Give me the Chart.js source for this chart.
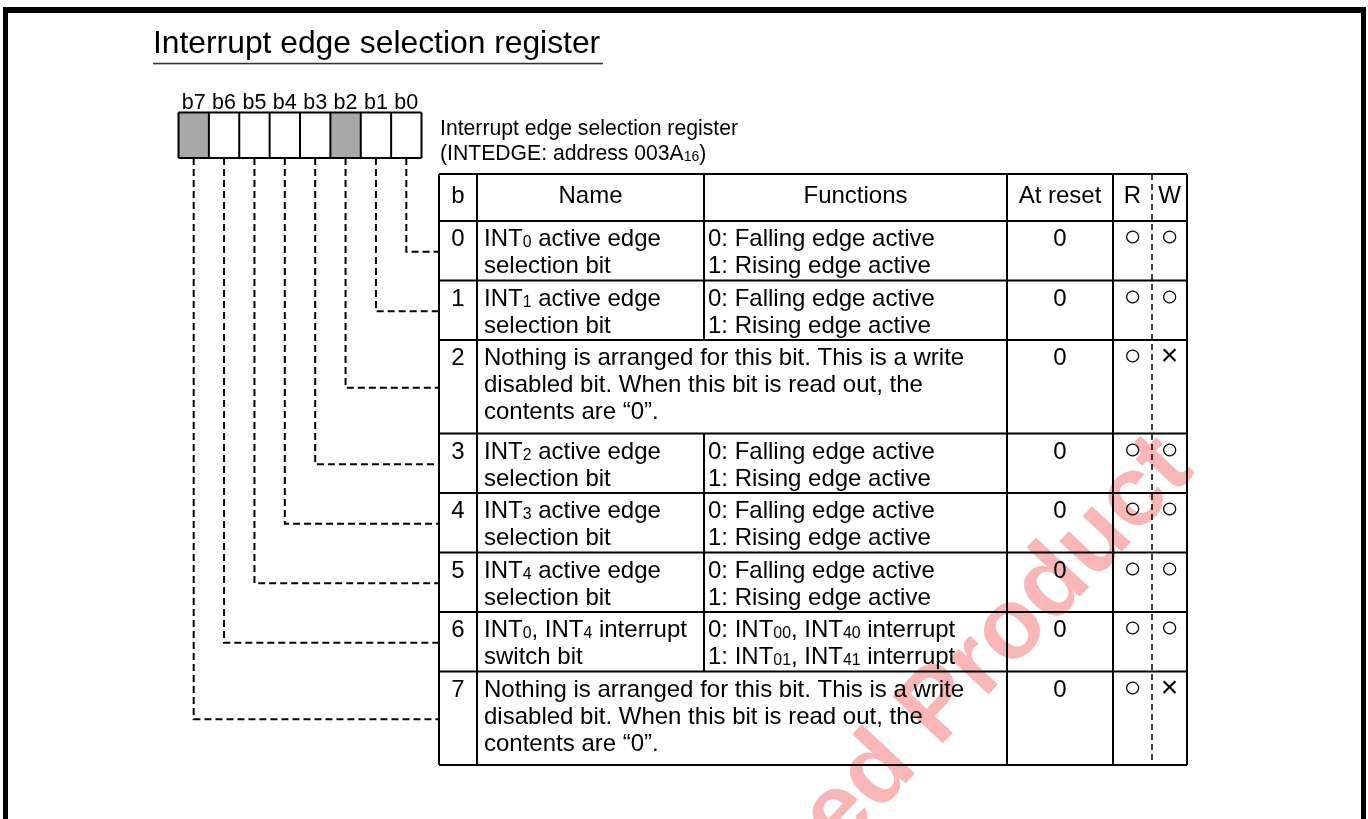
<!DOCTYPE html>
<html><head><meta charset="utf-8">
<script src="https://cdn.jsdelivr.net/npm/chart.js"></script>
<style>html,body{margin:0;padding:0;background:#fff;overflow:hidden}#wrap{width:1368px;height:819px}</style>
</head><body><div id="wrap"><canvas id="c" width="1368" height="819"></canvas></div>
<script>
// ---------- DATA ----------
const titleText = 'Interrupt edge selection register';
const registerName = 'Interrupt edge selection register';
const registerAddress = '(INTEDGE: address 003A_{16})';
const bitLabels = ['b7','b6','b5','b4','b3','b2','b1','b0'];
const reservedBits = [7, 2];
const headers = ['b','Name','Functions','At reset','R','W'];
const bitNumbers = ['0','1','2','3','4','5','6','7'];
const names = [
  ['INT_{0} active edge','selection bit'],
  ['INT_{1} active edge','selection bit'],
  null,
  ['INT_{2} active edge','selection bit'],
  ['INT_{3} active edge','selection bit'],
  ['INT_{4} active edge','selection bit'],
  ['INT_{0}, INT_{4} interrupt','switch bit'],
  null
];
const functionsText = [
  ['0: Falling edge active','1: Rising edge active'],
  ['0: Falling edge active','1: Rising edge active'],
  null,
  ['0: Falling edge active','1: Rising edge active'],
  ['0: Falling edge active','1: Rising edge active'],
  ['0: Falling edge active','1: Rising edge active'],
  ['0: INT_{00}, INT_{40} interrupt','1: INT_{01}, INT_{41} interrupt'],
  null
];
const spanText = [
  null, null,
  ['Nothing is arranged for this bit. This is a write','disabled bit. When this bit is read out, the','contents are \u201c0\u201d.'],
  null, null, null, null,
  ['Nothing is arranged for this bit. This is a write','disabled bit. When this bit is read out, the','contents are \u201c0\u201d.']
];
const resetValues = ['0','0','0','0','0','0','0','0'];
const readAccess  = ['\u25cb','\u25cb','\u25cb','\u25cb','\u25cb','\u25cb','\u25cb','\u25cb'];
const writeAccess = ['\u25cb','\u25cb','\u00d7','\u25cb','\u25cb','\u25cb','\u25cb','\u00d7'];
const watermarkText = 'Discontinued Product';

// ---------- LAYOUT ----------
const FONT = '"Liberation Sans", Arial, Helvetica, sans-serif';
const L = {
  W: 1368, H: 819,
  titleX: 153, titleY: 53, titleSize: 31.8, ulY: 63.5, ulX2: 603,
  boxL: 178.5, boxR: 421.5, boxT: 112.5, boxB: 158, bitLabelY: 109, bitLabelSize: 21.5,
  regX: 440, regY1: 135, regY2: 160, regSize: 21.2,
  cols: [439, 477, 704, 1007, 1113, 1152, 1187],
  tTop: 174, hBot: 221, headY: 203, headSize: 24,
  bodySize: 24, symSize: 30, lineH: 27, firstBase: 25,
  nameX: 484, funcX: 708
};
function rowHeight(lines){ return 34*lines - 8.5; }
const rowLines = bitNumbers.map((b,i)=> Math.max((names[i]||[]).length,(functionsText[i]||[]).length,(spanText[i]||[]).length));
const rowTops = []; { let y=L.hBot; rowLines.forEach(n=>{ rowTops.push(y); y+=rowHeight(n); }); rowTops.push(y); }
const tBot = rowTops[rowTops.length-1];
const cellW = (L.boxR-L.boxL)/bitLabels.length;
function bitCenterX(bit){ return L.boxL + (7-bit+0.5)*cellW; }
function connY(i){ return (rowTops[i]+rowTops[i+1])/2 + 1; }

// ---------- SEGMENTS ----------
const GAP = {x:null,y:null};
function seg(arr,x1,y1,x2,y2){ arr.push({x:x1,y:y1},{x:x2,y:y2},GAP); }
const tableSegs = [], rwSegs = [], connSegs = [], boxSegs = [];
const C = L.cols;
seg(tableSegs,C[0],L.tTop,C[6],L.tTop);
seg(tableSegs,C[0],L.hBot,C[6],L.hBot);
rowTops.slice(1).forEach(y=>seg(tableSegs,C[0],y,C[6],y));
[0,1,3,4,6].forEach(k=>seg(tableSegs,C[k],L.tTop,C[k],tBot));
seg(tableSegs,C[2],L.tTop,C[2],L.hBot);
bitNumbers.forEach((b,i)=>{ if(!spanText[i]) seg(tableSegs,C[2],rowTops[i],C[2],rowTops[i+1]); });
seg(rwSegs,C[5],L.tTop,C[5],tBot);
bitNumbers.forEach((b,i)=>{
  const x=bitCenterX(i), y=connY(i);
  connSegs.push({x:x,y:L.boxB},{x:x,y:y},{x:C[0],y:y},GAP);
});
seg(boxSegs,L.boxL,L.boxT,L.boxR,L.boxT);
seg(boxSegs,L.boxL,L.boxB,L.boxR,L.boxB);
for(let k=0;k<=bitLabels.length;k++){ const x=L.boxL+k*cellW; seg(boxSegs,x,L.boxT,x,L.boxB); }

function ds(data,w,dash){ return {data, showLine:true, borderColor:'#000', backgroundColor:'#000', borderWidth:w, borderDash:dash||[], pointRadius:0, pointHoverRadius:0, spanGaps:false, tension:0, fill:false}; }

// ---------- DRAW HELPERS ----------
function drawRich(ctx, str, x, y, size, align){
  const parts=[]; const re=/_\{([^}]*)\}/g; let last=0,m;
  while((m=re.exec(str))){ if(m.index>last) parts.push({t:str.slice(last,m.index),s:false}); parts.push({t:m[1],s:true}); last=re.lastIndex; }
  if(last<str.length) parts.push({t:str.slice(last),s:false});
  const subSize=size*0.66;
  let total=0; parts.forEach(p=>{ ctx.font=(p.s?subSize:size)+'px '+FONT; p.w=ctx.measureText(p.t).width; total+=p.w; });
  let cx = align==='center'? x-total/2 : x;
  ctx.textAlign='left'; ctx.textBaseline='alphabetic';
  parts.forEach(p=>{ ctx.font=(p.s?subSize:size)+'px '+FONT; ctx.fillText(p.t,cx,y+(p.s?1:0)); cx+=p.w; });
}

const diagramPlugin = {
  id:'diagram',
  beforeDatasetsDraw(chart){
    const ctx=chart.ctx, X=v=>chart.scales.x.getPixelForValue(v), Y=v=>chart.scales.y.getPixelForValue(v);
    ctx.save();
    // watermark
    ctx.save();
    ctx.translate(X(1196),Y(472)); ctx.rotate(-47*Math.PI/180);
    ctx.font='bold 100px '+FONT; ctx.fillStyle='rgba(240,80,80,0.42)'; ctx.textAlign='right'; ctx.textBaseline='alphabetic';
    ctx.fillText(watermarkText,0,0);
    ctx.restore();
    // frame
    ctx.fillStyle='#000';
    ctx.fillRect(X(3),Y(7),X(1366)-X(3),6);
    ctx.fillRect(X(3),Y(7),5,Y(819)-Y(7));
    ctx.fillRect(X(1361),Y(7),5,Y(819)-Y(7));
    // gray reserved cells
    ctx.fillStyle='#a8a8a8';
    reservedBits.forEach(b=>{ const x0=L.boxL+(7-b)*cellW; ctx.fillRect(X(x0),Y(L.boxT),cellW,L.boxB-L.boxT); });
    ctx.restore();
  },
  afterDatasetsDraw(chart){
    const ctx=chart.ctx, X=v=>chart.scales.x.getPixelForValue(v), Y=v=>chart.scales.y.getPixelForValue(v);
    ctx.save(); ctx.fillStyle='#000';
    // title
    drawRich(ctx,titleText,X(L.titleX),Y(L.titleY),L.titleSize,'left');
    ctx.fillStyle='#333'; ctx.fillRect(X(L.titleX),Y(L.ulY)-0.75,X(L.ulX2)-X(L.titleX),1.6); ctx.fillStyle='#000';
    // bit labels
    bitLabels.forEach((t,k)=>drawRich(ctx,t,X(L.boxL+(k+0.5)*cellW),Y(L.bitLabelY),L.bitLabelSize,'center'));
    // register label
    drawRich(ctx,registerName,X(L.regX),Y(L.regY1),L.regSize,'left');
    drawRich(ctx,registerAddress,X(L.regX),Y(L.regY2),L.regSize,'left');
    // headers
    const hx=[(C[0]+C[1])/2,(C[1]+C[2])/2,(C[2]+C[3])/2,(C[3]+C[4])/2,(C[4]+C[5])/2,(C[5]+C[6])/2];
    headers.forEach((h,k)=>drawRich(ctx,h,X(hx[k]),Y(L.headY),L.headSize,'center'));
    // rows
    bitNumbers.forEach((b,i)=>{
      const top=rowTops[i];
      const base=n=>Y(top+L.firstBase+n*L.lineH);
      drawRich(ctx,b,X(hx[0]),base(0),L.bodySize,'center');
      if(spanText[i]) spanText[i].forEach((t,n)=>drawRich(ctx,t,X(L.nameX),base(n),L.bodySize,'left'));
      if(names[i]) names[i].forEach((t,n)=>drawRich(ctx,t,X(L.nameX),base(n),L.bodySize,'left'));
      if(functionsText[i]) functionsText[i].forEach((t,n)=>drawRich(ctx,t,X(L.funcX),base(n),L.bodySize,'left'));
      drawRich(ctx,resetValues[i],X(hx[3]),base(0),L.bodySize,'center');
      drawRich(ctx,readAccess[i],X(hx[4]),base(0),L.symSize,'center');
      drawRich(ctx,writeAccess[i],X(hx[5]),base(0),L.symSize,'center');
    });
    ctx.restore();
  }
};

new Chart(document.getElementById('c'),{
  type:'scatter',
  data:{datasets:[ds(tableSegs,2),ds(rwSegs,1.5,[6,4]),ds(connSegs,2,[7,4]),ds(boxSegs,2)]},
  options:{
    responsive:false, animation:false, events:[],
    layout:{padding:0},
    scales:{
      x:{type:'linear',min:0,max:L.W,display:false},
      y:{type:'linear',min:0,max:L.H,reverse:true,display:false}
    },
    plugins:{legend:{display:false},tooltip:{enabled:false}}
  },
  plugins:[diagramPlugin]
});
</script></body></html>
